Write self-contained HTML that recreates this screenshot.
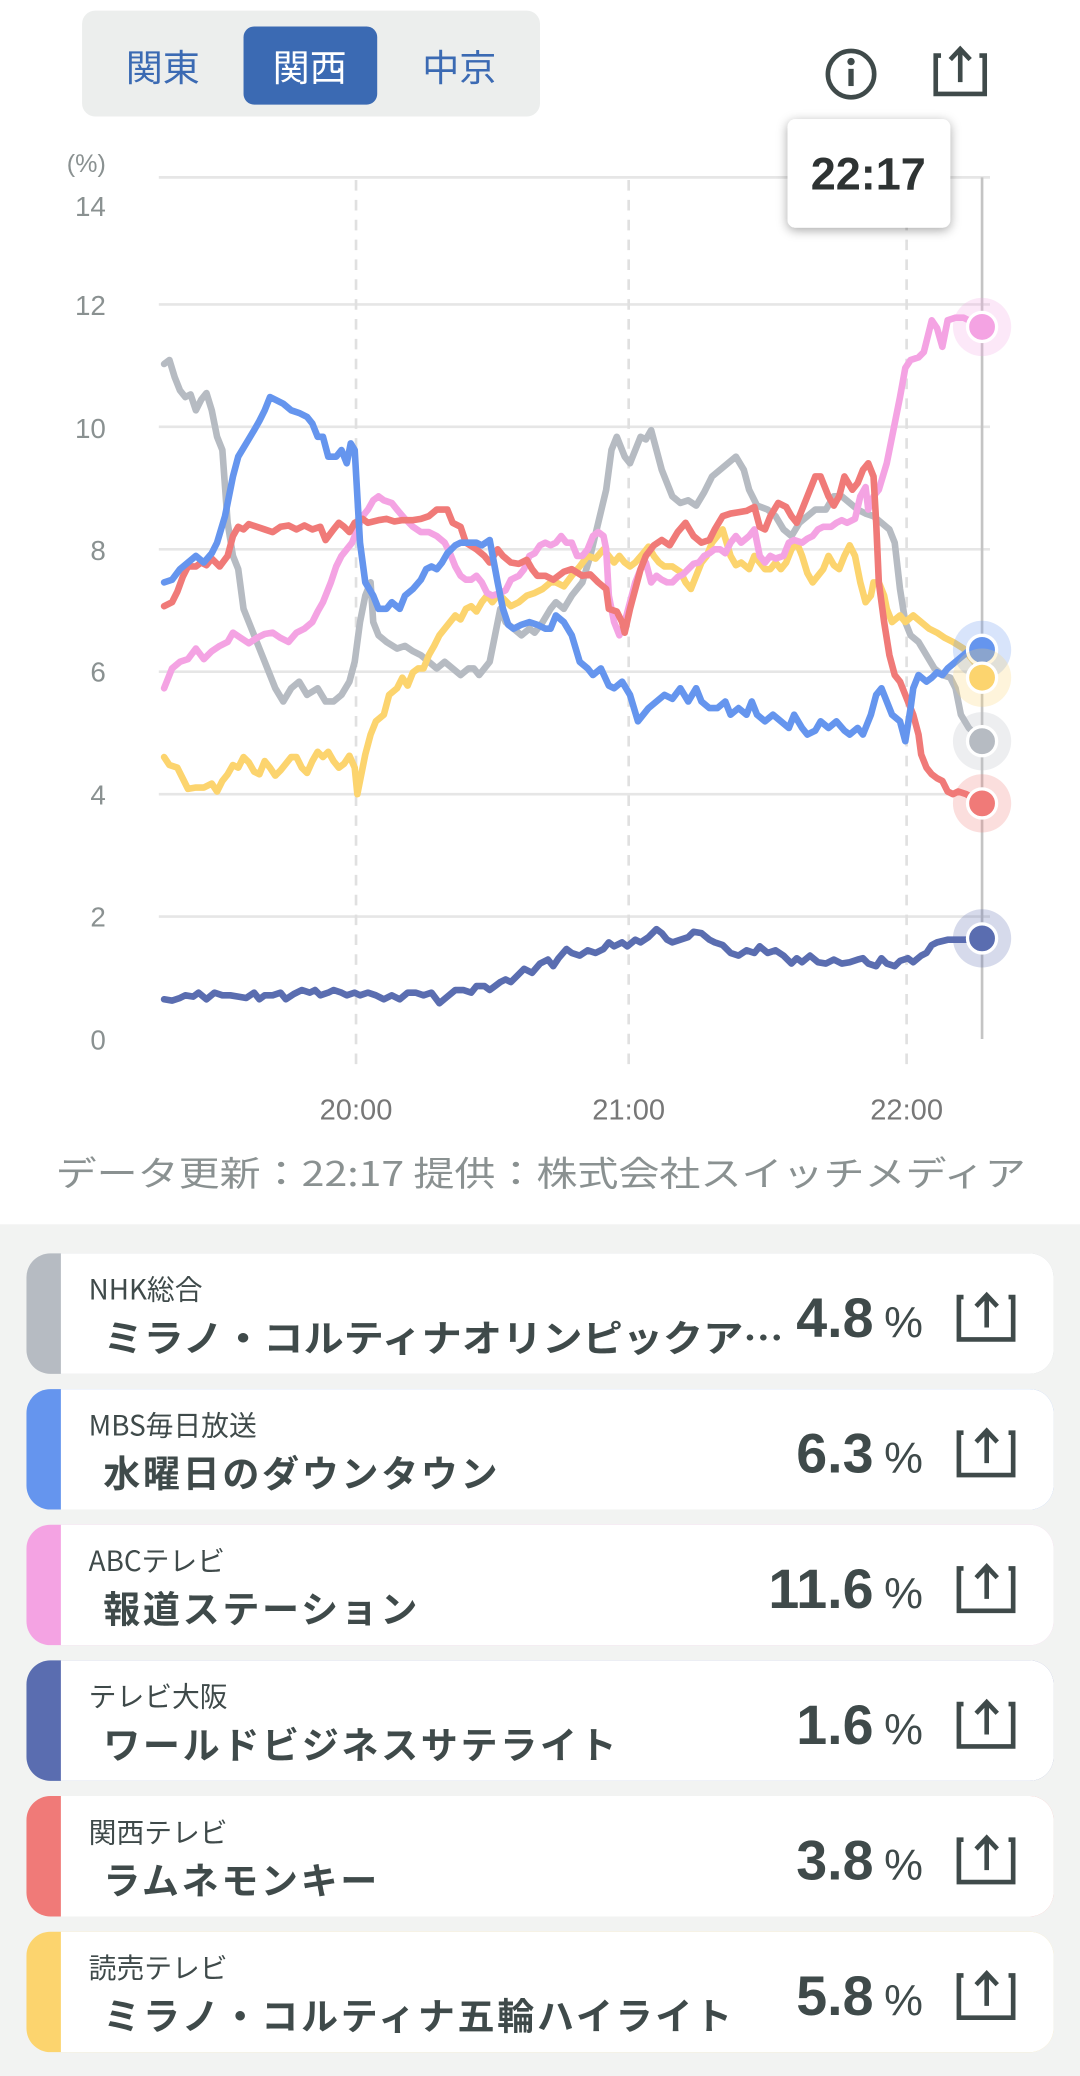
<!DOCTYPE html>
<html><head><meta charset="utf-8"><style>
html,body{margin:0;padding:0;background:#fff;}
svg{display:block;}
text{font-family:"Liberation Sans","Noto Sans CJK JP",sans-serif;}
.jp{font-family:"Noto Sans CJK JP","Liberation Sans",sans-serif;}
.tt{font-family:"Noto Sans CJK JP","Liberation Sans",sans-serif;font-size:28px;font-weight:bold;letter-spacing:2px;fill:#3f4a4a;}
</style></head><body>
<svg width="1080" height="2076" viewBox="0 0 816 1568.5" xmlns="http://www.w3.org/2000/svg">
<defs>
<filter id="sh" x="-30%" y="-30%" width="160%" height="160%"><feDropShadow dx="0" dy="2" stdDeviation="4" flood-color="#000" flood-opacity="0.35"/></filter>
</defs>
<rect x="0" y="0" width="816" height="925" fill="#fff"/>
<rect x="0" y="925" width="816" height="644" fill="#f2f3f2"/>
<rect x="62" y="8" width="346" height="80" rx="10" fill="#eceeed"/>
<rect x="184" y="20" width="101" height="59" rx="8" fill="#3b6ab3"/>
<text class="jp" x="123" y="61" font-size="28" fill="#3b6ab3" text-anchor="middle">関東</text>
<text class="jp" x="234" y="61" font-size="28" fill="#fff" text-anchor="middle">関西</text>
<text class="jp" x="347" y="61" font-size="28" fill="#3b6ab3" text-anchor="middle">中京</text>
<circle cx="643" cy="56" r="17.5" fill="none" stroke="#3f4a4a" stroke-width="3.5"/>
<circle cx="643" cy="46.5" r="2.8" fill="#3f4a4a"/>
<rect x="641" y="52" width="4" height="13" fill="#3f4a4a"/>
<path d="M711,42 h-4 v29 h37 v-29 h-4" fill="none" stroke="#3f4a4a" stroke-width="3.5"/>
<path d="M725.5,62 v-24 M718,45 l7.5,-8 l7.5,8" fill="none" stroke="#3f4a4a" stroke-width="3.5"/>
<g stroke="#e6e6e6" stroke-width="2">
<line x1="120" y1="692.5" x2="748" y2="692.5"/><line x1="120" y1="600" x2="748" y2="600"/>
<line x1="120" y1="507.5" x2="748" y2="507.5"/><line x1="120" y1="415" x2="748" y2="415"/>
<line x1="120" y1="322.5" x2="748" y2="322.5"/><line x1="120" y1="230" x2="748" y2="230"/>
<line x1="120" y1="134" x2="748" y2="134"/>
</g>
<g stroke="#e0e0e0" stroke-width="2" stroke-dasharray="8 7">
<line x1="269" y1="136" x2="269" y2="805"/><line x1="475" y1="136" x2="475" y2="805"/><line x1="685" y1="136" x2="685" y2="805"/>
</g>
<line x1="742" y1="134" x2="742" y2="785" stroke="#c4c4c4" stroke-width="2"/>
<g font-size="21" fill="#8a9191" text-anchor="end">
<text x="80" y="130" font-size="19">(%)</text>
<text x="80" y="163">14</text><text x="80" y="238">12</text><text x="80" y="331">10</text>
<text x="80" y="423">8</text><text x="80" y="515">6</text><text x="80" y="608">4</text>
<text x="80" y="700">2</text><text x="80" y="793">0</text>
</g>
<g font-size="22" fill="#777" text-anchor="middle">
<text x="269" y="846">20:00</text><text x="475" y="846">21:00</text><text x="685" y="846">22:00</text>
</g>
<g fill="none" stroke-width="5" stroke-linejoin="round" stroke-linecap="round">
<polyline stroke="#b6bbc2" points="124,275 128,272 132,285 136,295 140,300 144,298 148,310 152,302 156,297 160,310 164,330 168,340 172,395 176,420 180,430 184,460 190,475 196,490 202,505 208,520 214,530 220,520 226,515 232,525 240,520 246,530 252,530 258,525 264,515 268,500 272,470 276,450 280,440 282,470 286,480 292,485 300,490 306,488 312,492 318,495 324,500 330,505 336,500 342,505 348,510 354,505 358,505 362,510 366,505 370,500 374,480 378,460 382,470 388,475 394,480 400,475 404,478 410,470 416,460 420,455 426,460 432,450 440,440 446,420 452,395 458,370 462,340 466,330 472,345 476,350 480,340 484,330 488,332 492,325 496,340 500,355 504,365 508,375 514,380 520,378 526,382 532,372 538,360 544,355 550,350 556,345 562,355 566,370 572,382 580,385 586,390 592,400 598,405 604,395 610,390 616,385 624,385 630,375 636,375 642,380 648,385 654,388 660,390 666,395 672,400 676,410 680,445 684,470 688,480 694,485 700,495 706,505 712,510 718,512 722,520 726,540 732,550 742,560"/>
<polyline stroke="#fcd46e" points="124,572 128,578 134,580 138,588 142,596 148,595 154,595 160,592 164,598 168,590 172,585 176,578 180,580 184,572 188,576 192,583 196,585 200,575 204,580 208,586 212,582 216,577 220,572 224,572 228,580 232,584 236,575 240,568 244,572 248,568 252,575 256,580 260,577 264,571 268,580 270,600 272,590 276,570 280,555 284,545 290,540 294,525 300,520 304,512 308,518 312,508 316,505 320,505 324,495 328,488 332,480 336,475 340,470 344,465 348,468 352,460 356,458 360,462 364,455 368,450 372,455 376,450 380,452 386,458 392,455 398,450 404,448 410,445 416,440 420,440 426,443 432,435 438,428 444,420 450,422 456,415 460,420 464,425 468,420 472,425 476,428 480,425 486,418 490,413 494,420 498,425 502,428 508,428 514,432 518,440 522,445 526,435 530,425 534,420 538,410 542,405 546,400 552,420 556,427 560,425 566,430 570,420 574,425 578,430 582,430 586,425 590,430 594,425 598,415 602,410 606,420 610,433 614,440 618,435 622,430 626,420 630,427 634,430 638,420 642,412 646,420 650,440 654,455 658,450 660,440 664,440 668,450 670,460 674,470 680,465 684,470 690,465 696,470 702,475 708,478 714,482 720,485 728,490 736,500 742,512"/>
<polyline stroke="#f4a3e3" points="124,520 130,505 136,500 142,498 148,490 154,498 160,492 166,488 172,485 176,478 182,482 188,486 194,482 200,479 206,478 212,482 218,485 224,478 230,475 236,470 240,462 244,455 250,440 254,428 258,420 262,415 266,410 270,400 274,390 278,385 282,378 286,375 290,378 296,380 300,385 306,392 312,398 318,402 324,402 330,405 336,410 340,418 344,428 348,435 352,438 356,438 360,435 364,440 368,448 372,450 378,448 382,446 386,438 392,435 396,430 400,420 404,418 408,412 412,410 416,412 420,410 424,405 428,410 432,410 436,420 440,420 444,415 448,405 452,402 456,405 458,415 460,450 464,470 468,480 472,470 476,455 480,440 484,430 488,425 492,440 496,435 500,438 504,440 508,440 512,436 516,434 520,430 524,426 528,425 532,420 536,418 540,415 544,415 548,418 552,410 556,405 560,410 566,405 570,400 574,420 578,425 582,420 586,422 592,420 596,410 600,408 606,410 610,407 614,405 618,400 622,398 628,398 632,395 636,393 640,395 646,392 650,375 654,368 656,385 660,375 664,370 670,350 676,320 680,300 684,278 688,272 694,270 698,266 702,250 704,242 708,248 712,262 716,242 722,240 728,240 742,247"/>
<polyline stroke="#f07a78" points="124,458 130,455 134,447 138,436 142,428 148,428 152,425 156,427 160,422 166,428 172,420 176,405 180,398 184,400 188,396 194,398 200,400 206,402 212,398 218,397 224,400 230,397 236,400 242,398 246,408 252,400 256,395 260,398 264,402 268,395 274,392 278,395 286,393 292,392 298,394 304,393 312,393 318,392 324,390 330,385 338,385 342,395 348,398 352,410 360,415 366,420 370,425 376,415 380,420 386,425 392,426 398,423 402,430 406,435 412,435 418,438 426,432 432,430 440,435 446,434 452,440 458,445 460,460 466,462 470,470 472,478 476,460 480,445 484,430 488,420 494,412 500,408 506,412 512,402 518,395 524,405 530,410 536,408 540,400 546,390 552,388 558,387 564,386 570,383 574,398 578,400 582,390 588,380 594,383 598,390 602,395 606,385 612,370 616,360 620,360 626,375 630,382 634,375 638,360 644,370 648,365 652,355 656,350 660,360 662,395 664,440 668,470 672,495 676,510 680,515 684,525 690,540 694,555 696,570 700,580 704,585 708,588 712,590 716,598 720,600 724,598 730,600 742,607"/>
<polyline stroke="#6595ee" points="124,440 130,438 136,430 142,425 148,420 154,425 160,418 164,410 170,390 176,360 180,345 186,335 192,325 196,318 200,310 204,300 208,302 214,305 220,310 226,312 232,315 236,320 240,330 244,330 248,345 254,345 258,340 262,350 265,335 268,340 272,410 276,440 282,450 286,460 292,460 296,455 302,460 306,450 312,445 318,438 322,430 326,428 330,430 334,425 338,418 344,412 348,410 354,410 360,410 364,412 370,408 376,440 380,460 384,472 388,475 394,472 400,470 406,472 412,475 416,475 420,465 426,470 432,480 438,500 444,505 448,510 454,505 460,518 464,520 470,515 476,525 482,545 486,540 490,535 496,530 502,525 508,528 514,520 520,530 526,520 530,530 536,535 542,535 548,530 552,540 558,535 564,540 568,530 572,540 578,545 584,540 590,545 596,550 600,540 606,550 610,555 616,552 620,545 626,550 632,545 638,552 642,555 648,550 652,555 658,540 662,525 666,520 670,530 674,540 680,545 684,560 688,535 690,520 694,510 700,515 704,512 708,508 712,510 716,505 722,500 728,495 734,490 742,491"/>
<polyline stroke="#5a6db0" points="124,755 130,756 136,754 140,752 146,753 150,750 156,755 162,750 168,752 174,752 180,753 186,754 192,750 196,755 200,752 206,752 212,750 216,755 222,751 228,748 234,750 238,748 242,752 248,750 252,748 258,750 262,752 268,750 272,752 278,750 284,752 290,755 296,752 302,755 308,750 314,750 320,752 326,750 332,758 338,753 344,748 350,748 356,750 360,745 366,745 370,748 374,745 378,742 382,740 386,742 390,738 396,732 402,735 408,728 414,725 418,730 422,724 428,717 432,720 438,722 444,718 450,720 456,717 460,712 464,715 470,712 474,715 480,710 484,712 490,708 496,702 500,705 504,710 508,712 514,710 520,708 524,704 530,705 536,710 540,712 546,714 552,720 558,722 564,718 570,720 574,715 580,720 586,718 592,722 598,728 602,724 606,727 612,722 618,727 624,728 630,725 636,728 642,727 648,725 652,724 656,728 662,730 666,724 670,728 676,730 680,726 686,724 690,727 696,722 700,720 704,714 708,712 716,710 722,710 730,710 742,709"/>
</g>
<g>
<circle cx="742" cy="247" r="22" fill="#f4a3e3" opacity="0.25"/><circle cx="742" cy="247" r="11" fill="#f4a3e3" stroke="#fff" stroke-width="2.5"/>
<circle cx="742" cy="491" r="22" fill="#6595ee" opacity="0.25"/><circle cx="742" cy="491" r="11" fill="#6595ee" stroke="#fff" stroke-width="2.5"/>
<circle cx="742" cy="512" r="22" fill="#fcd46e" opacity="0.25"/><circle cx="742" cy="512" r="11" fill="#fcd46e" stroke="#fff" stroke-width="2.5"/>
<circle cx="742" cy="560" r="22" fill="#b6bbc2" opacity="0.25"/><circle cx="742" cy="560" r="11" fill="#b6bbc2" stroke="#fff" stroke-width="2.5"/>
<circle cx="742" cy="607" r="22" fill="#f07a78" opacity="0.25"/><circle cx="742" cy="607" r="11" fill="#f07a78" stroke="#fff" stroke-width="2.5"/>
<circle cx="742" cy="709" r="22" fill="#5a6db0" opacity="0.25"/><circle cx="742" cy="709" r="11" fill="#5a6db0" stroke="#fff" stroke-width="2.5"/>
</g>
<rect x="595" y="90" width="123" height="82" rx="6" fill="#fff" filter="url(#sh)"/>
<text x="656" y="143" font-size="34" font-weight="bold" fill="#2e3333" text-anchor="middle">22:17</text>
<text class="jp" x="42" y="896" font-size="26" fill="#8a9191" textLength="733" lengthAdjust="spacingAndGlyphs">データ更新：22:17  提供：株式会社スイッチメディア</text>
<g transform="translate(0,947)">
<rect x="20" y="0" width="776" height="91" rx="18" fill="#b6bbc2"/><path d="M46,0 H778 a18,18 0 0 1 18,18 V73 a18,18 0 0 1 -18,18 H46 Z" fill="#fff"/>
<text class="jp" x="67" y="35" font-size="21" fill="#3f4a4a">NHK総合</text>
<text class="tt" x="78" y="74" textLength="514" lengthAdjust="spacingAndGlyphs" style="letter-spacing:0">ミラノ・コルティナオリンピックア…</text>
<text x="660" y="63" font-size="42" font-weight="bold" fill="#3f4a4a" text-anchor="end">4.8</text><text x="668" y="63" font-size="33" fill="#3f4a4a">%</text>
<path d="M728,33 h-3.5 v32 h41 v-32 h-3.5 M745.5,56 v-24 M737.5,40 l8,-8.5 l8,8.5" fill="none" stroke="#3f4a4a" stroke-width="3.5"/>
</g>
<g transform="translate(0,1049.5)">
<rect x="20" y="0" width="776" height="91" rx="18" fill="#6595ee"/><path d="M46,0 H778 a18,18 0 0 1 18,18 V73 a18,18 0 0 1 -18,18 H46 Z" fill="#fff"/>
<text class="jp" x="67" y="35" font-size="21" fill="#3f4a4a">MBS毎日放送</text>
<text class="tt" x="78" y="74">水曜日のダウンタウン</text>
<text x="660" y="63" font-size="42" font-weight="bold" fill="#3f4a4a" text-anchor="end">6.3</text><text x="668" y="63" font-size="33" fill="#3f4a4a">%</text>
<path d="M728,33 h-3.5 v32 h41 v-32 h-3.5 M745.5,56 v-24 M737.5,40 l8,-8.5 l8,8.5" fill="none" stroke="#3f4a4a" stroke-width="3.5"/>
</g>
<g transform="translate(0,1152)">
<rect x="20" y="0" width="776" height="91" rx="18" fill="#f4a3e3"/><path d="M46,0 H778 a18,18 0 0 1 18,18 V73 a18,18 0 0 1 -18,18 H46 Z" fill="#fff"/>
<text class="jp" x="67" y="35" font-size="21" fill="#3f4a4a">ABCテレビ</text>
<text class="tt" x="78" y="74">報道ステーション</text>
<text x="660" y="63" font-size="42" font-weight="bold" fill="#3f4a4a" text-anchor="end">11.6</text><text x="668" y="63" font-size="33" fill="#3f4a4a">%</text>
<path d="M728,33 h-3.5 v32 h41 v-32 h-3.5 M745.5,56 v-24 M737.5,40 l8,-8.5 l8,8.5" fill="none" stroke="#3f4a4a" stroke-width="3.5"/>
</g>
<g transform="translate(0,1254.5)">
<rect x="20" y="0" width="776" height="91" rx="18" fill="#5a6db0"/><path d="M46,0 H778 a18,18 0 0 1 18,18 V73 a18,18 0 0 1 -18,18 H46 Z" fill="#fff"/>
<text class="jp" x="67" y="35" font-size="21" fill="#3f4a4a">テレビ大阪</text>
<text class="tt" x="78" y="74">ワールドビジネスサテライト</text>
<text x="660" y="63" font-size="42" font-weight="bold" fill="#3f4a4a" text-anchor="end">1.6</text><text x="668" y="63" font-size="33" fill="#3f4a4a">%</text>
<path d="M728,33 h-3.5 v32 h41 v-32 h-3.5 M745.5,56 v-24 M737.5,40 l8,-8.5 l8,8.5" fill="none" stroke="#3f4a4a" stroke-width="3.5"/>
</g>
<g transform="translate(0,1357)">
<rect x="20" y="0" width="776" height="91" rx="18" fill="#f07a78"/><path d="M46,0 H778 a18,18 0 0 1 18,18 V73 a18,18 0 0 1 -18,18 H46 Z" fill="#fff"/>
<text class="jp" x="67" y="35" font-size="21" fill="#3f4a4a">関西テレビ</text>
<text class="tt" x="78" y="74">ラムネモンキー</text>
<text x="660" y="63" font-size="42" font-weight="bold" fill="#3f4a4a" text-anchor="end">3.8</text><text x="668" y="63" font-size="33" fill="#3f4a4a">%</text>
<path d="M728,33 h-3.5 v32 h41 v-32 h-3.5 M745.5,56 v-24 M737.5,40 l8,-8.5 l8,8.5" fill="none" stroke="#3f4a4a" stroke-width="3.5"/>
</g>
<g transform="translate(0,1459.5)">
<rect x="20" y="0" width="776" height="91" rx="18" fill="#fcd46e"/><path d="M46,0 H778 a18,18 0 0 1 18,18 V73 a18,18 0 0 1 -18,18 H46 Z" fill="#fff"/>
<text class="jp" x="67" y="35" font-size="21" fill="#3f4a4a">読売テレビ</text>
<text class="tt" x="78" y="74">ミラノ・コルティナ五輪ハイライト</text>
<text x="660" y="63" font-size="42" font-weight="bold" fill="#3f4a4a" text-anchor="end">5.8</text><text x="668" y="63" font-size="33" fill="#3f4a4a">%</text>
<path d="M728,33 h-3.5 v32 h41 v-32 h-3.5 M745.5,56 v-24 M737.5,40 l8,-8.5 l8,8.5" fill="none" stroke="#3f4a4a" stroke-width="3.5"/>
</g>
</svg>
</body></html>
